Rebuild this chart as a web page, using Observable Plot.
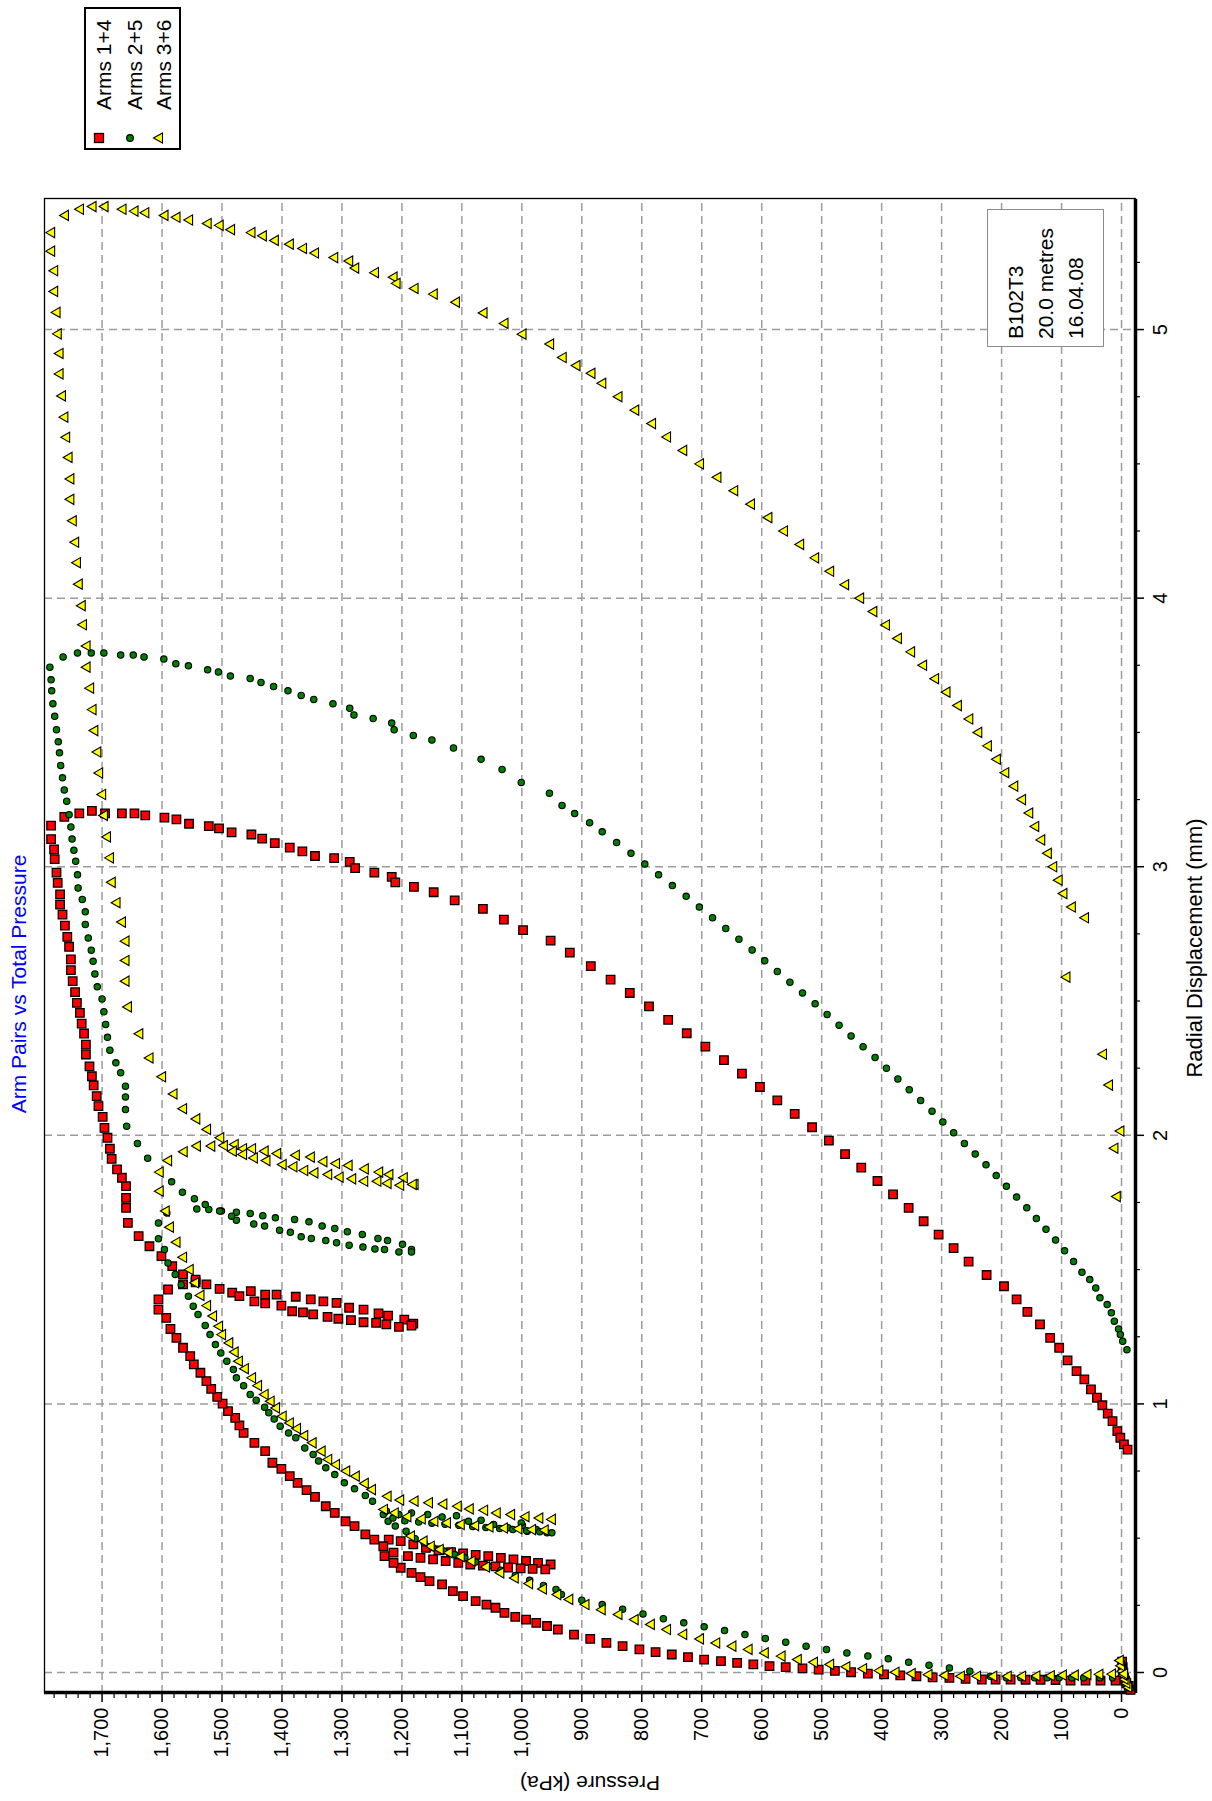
<!DOCTYPE html>
<html><head><meta charset="utf-8">
<script src="https://cdn.jsdelivr.net/npm/d3@7"></script>
<script src="https://cdn.jsdelivr.net/npm/@observablehq/plot@0.6"></script>
<style>
html,body{margin:0;padding:0;overflow:hidden;background:#fff;width:1212px;height:1801px;}
#rot{position:absolute;left:0;top:0;width:1801px;height:1212px;transform-origin:0 0;transform:translateY(1801px) rotate(-90deg);font-family:"Liberation Sans",Arial,sans-serif;background:#fff;overflow:hidden;}
#rot svg{position:absolute;left:0;top:0;}
.abs{position:absolute;white-space:nowrap;}
#title{left:817px;top:19px;transform:translate(-50%,-50%);color:#0000ff;font-size:21px;}
#ylab{left:18px;top:590px;transform:translate(-50%,-50%) rotate(-90deg);font-size:21px;}
#xlab{left:853px;top:1195px;transform:translate(-50%,-50%);font-size:22px;}
#info{left:1454px;top:987px;width:138px;height:117px;box-sizing:border-box;border:1.5px solid #8c8c8c;background:#fff;padding:13px 0 0 7px;font-size:21px;line-height:30px;}
#legend{left:1651px;top:84px;width:143px;height:97px;box-sizing:border-box;border:2px solid #000;background:#fff;}
.lrow{position:absolute;left:0;height:30px;line-height:30px;font-size:21px;white-space:nowrap;}
.lrow svg{position:absolute;left:10px;top:5px;}
.lrow span{position:absolute;left:38px;top:0;}
</style></head>
<body><div id="rot"></div>
<script>
// ---------- tick labels ----------
const pressureTicks = [0,100,200,300,400,500,600,700,800,900,1000,1100,1200,1300,1400,1500,1600,1700];
const dispTicks = [0,1,2,3,4,5];
const legendNames = ["Arms 1+4","Arms 2+5","Arms 3+6"];
const titleText = "Arm Pairs vs Total Pressure";
const xLabel = "Radial Displacement (mm)";
const yLabel = "Pressure (kPa)";
const infoLines = ["B102T3","20.0 metres","16.04.08"];

// ---------- Arms 1+4 : [displacement mm, pressure kPa] ----------
const red_start = [[-0.065,-15],[-0.05,-12],[-0.04,-8],[-0.03,-6],[-0.02,-4],[0.0,-3],[0.02,-2],[0.04,-1],
 [-0.03,10],[-0.03,35],[-0.03,60],[-0.03,85],[-0.028,110],[-0.027,135],[-0.027,160],[-0.026,185],[-0.026,210],[-0.026,233],
 [-0.024,260],[-0.020,287],[-0.018,315],[-0.014,342],[-0.011,369],[-0.007,396],[-0.004,423],[0.001,451],[0.006,478],[0.011,505],
 [0.015,532],[0.020,560],[0.024,587],[0.030,614],[0.036,641],[0.042,668],[0.048,696],[0.057,723],[0.067,750],[0.076,777],
 [0.086,804],[0.098,832],[0.110,859],[0.125,886],[0.141,913],[0.160,940],[0.173,958],[0.185,976],[0.197,993],[0.207,1011],
 [0.222,1029],[0.241,1044],[0.253,1059],[0.266,1077],[0.284,1098],[0.303,1115],[0.328,1133],[0.340,1154],[0.355,1169],
 [0.371,1184],[0.390,1202],[0.408,1214],[0.433,1229]];
const red_loop1 = [[0.495,1222],[0.489,1202],[0.477,1181],[0.464,1160],[0.455,1139],[0.448,1118],[0.443,1098],[0.438,1077],
 [0.433,1056],[0.427,1035],[0.421,1014],[0.415,993],[0.408,973],[0.402,952],
 [0.470,1231],[0.446,1214],[0.433,1190],[0.427,1169],[0.421,1148],[0.415,1127],[0.408,1106],[0.402,1086],[0.398,1065],
 [0.395,1044],[0.391,1023],[0.388,1002],[0.386,982],[0.384,961]];
const red_mid = [[0.495,1246],[0.514,1261],[0.545,1279],[0.563,1294],[0.594,1312],[0.619,1327],[0.654,1345],[0.679,1359],
 [0.706,1374],[0.731,1387],[0.758,1401],[0.781,1416],[0.824,1428],[0.855,1446],[0.892,1464],[0.920,1471],[0.948,1478],
 [0.973,1490],[1.001,1499],[1.026,1508],[1.056,1518],[1.085,1526],[1.116,1536],[1.147,1547],[1.178,1553],[1.209,1565],
 [1.246,1576],[1.279,1586],[1.320,1593]];
const red_loop2 = [[1.389,1606],[1.351,1606],[1.426,1590],
 [1.445,1565],[1.453,1544],[1.445,1526],[1.428,1504],[1.414,1483],[1.420,1452],[1.407,1428],[1.407,1409],[1.399,1377],
 [1.389,1352],[1.382,1331],[1.376,1309],[1.358,1288],[1.351,1264],[1.337,1239],[1.329,1223],[1.314,1196],[1.299,1181],
 [1.401,1471],[1.382,1446],[1.374,1428],[1.366,1401],[1.345,1383],[1.341,1365],[1.333,1348],[1.324,1324],[1.317,1306],
 [1.312,1285],[1.304,1264],[1.302,1243],[1.296,1226],[1.287,1205],[1.292,1184]];
const red_upper = [[1.463,1544],[1.482,1565],[1.513,1583],[1.550,1601],[1.587,1621],[1.625,1639],[1.674,1657],[1.730,1660],
 [1.767,1660],[1.811,1660],[1.842,1667],[1.873,1675],[1.912,1684],[1.950,1687],[1.991,1691],[2.028,1696],[2.069,1699],
 [2.109,1706],[2.146,1709],[2.186,1714],[2.220,1717],[2.257,1721],[2.301,1727],[2.338,1727],[2.379,1730],[2.416,1734],
 [2.456,1737],[2.493,1742],[2.533,1745],[2.574,1749],[2.615,1752],[2.655,1752],[2.702,1755],[2.739,1758],[2.781,1762],
 [2.822,1766],[2.859,1770],[2.897,1770],[2.940,1774],[2.978,1776],[3.028,1779],[3.065,1780],[3.103,1785],[3.153,1785]];
const red_unload = [[3.186,1763],[3.199,1738],[3.208,1717],[3.199,1695],[3.199,1667],[3.199,1646],[3.191,1628],[3.183,1596],
 [3.176,1576],[3.160,1555],[3.151,1522],[3.143,1505],[3.128,1484],[3.120,1451],[3.105,1433],[3.088,1412],[3.071,1387],
 [3.057,1366],[3.040,1345],[3.032,1313],[3.018,1287],[2.995,1278],[2.978,1246],[2.962,1217],[2.942,1211],[2.925,1180],
 [2.905,1147],[2.875,1112],[2.843,1065],[2.803,1030],[2.764,998],[2.725,952],
 [2.68,920],[2.63,885],[2.58,852],[2.53,820],[2.48,788],[2.43,756],[2.38,725],[2.33,694],[2.28,663],[2.23,633],[2.18,603],
 [2.13,574],[2.08,545],[2.03,516],[1.98,488],[1.93,461],[1.88,434],[1.83,407],[1.78,381],[1.73,355],[1.68,330],[1.63,305],
 [1.58,280],[1.53,255],[1.48,225],[1.438,196],[1.389,175],[1.343,157],[1.296,136],[1.246,119],[1.209,104],[1.162,90],
 [1.122,75],[1.091,62],[1.054,51],[1.023,41],[0.995,32],[0.964,23],[0.936,15],[0.899,7],[0.874,2],[0.849,-4],[0.830,-10]];

// ---------- Arms 2+5 ----------
const green_start = [[-0.06,-14],[-0.045,-10],[-0.03,-7],[-0.015,-5],[0.01,-3],[0.03,-1],
 [-0.02,-5],[-0.02,15],[-0.02,36],[-0.02,63],[-0.02,83],[-0.02,104],[-0.02,124],[-0.02,145],[-0.02,168],[-0.02,192],[-0.014,219],
 [0.005,253],[0.017,287],[0.027,321],[0.038,355],[0.051,389],[0.061,423],[0.073,458],[0.086,492],[0.098,526],[0.113,560],
 [0.127,594],[0.141,628],[0.156,662],[0.170,696],[0.185,730],[0.200,764],[0.218,798],[0.235,832],[0.253,866],[0.269,900],
 [0.290,934],[0.309,943],[0.324,964],[0.343,987],[0.361,1011],[0.381,1035],[0.396,1056],[0.411,1077],[0.427,1095],
 [0.439,1112],[0.452,1130],[0.464,1148],[0.483,1163],[0.498,1178],[0.526,1193],[0.545,1211],[0.563,1223],[0.588,1231]];
const green_loop1 = [[0.601,1226],[0.588,1205],[0.594,1184],[0.588,1157],[0.579,1133],[0.584,1109],[0.563,1089],[0.567,1068],
 [0.551,1047],[0.539,1023],[0.547,999],[0.532,976],[0.520,958],[0.557,1001],[0.526,991],
 [0.575,1215],[0.565,1195],[0.560,1172],[0.556,1150],[0.552,1128],[0.548,1105],[0.544,1082],[0.540,1060],[0.536,1037],
 [0.532,1015],[0.528,992],[0.524,970],[0.520,950]];
const green_mid = [[0.638,1249],[0.659,1261],[0.684,1279],[0.706,1296],[0.737,1312],[0.762,1327],[0.787,1339],[0.812,1348],
 [0.836,1362],[0.874,1377],[0.892,1389],[0.917,1403],[0.944,1413],[0.967,1422],[0.988,1429],[1.014,1443],[1.035,1453],
 [1.068,1464],[1.097,1476],[1.128,1481],[1.159,1492],[1.190,1502],[1.221,1511],[1.258,1520],[1.292,1528],[1.333,1540],
 [1.364,1548],[1.401,1556],[1.444,1568],[1.482,1578],[1.525,1590],[1.575,1596],[1.615,1606],[1.674,1606],[1.711,1592]];
const green_loop2 = [[1.726,1542],[1.724,1522],[1.718,1501],[1.714,1476],[1.709,1453],[1.701,1432],[1.693,1411],[1.687,1379],
 [1.678,1355],[1.662,1333],[1.653,1312],[1.641,1291],[1.631,1266],[1.616,1240],[1.608,1224],[1.594,1199],[1.575,1184],
 [1.684,1476],[1.670,1447],[1.662,1429],[1.647,1404],[1.639,1386],[1.622,1368],[1.616,1351],[1.608,1327],[1.600,1309],
 [1.591,1288],[1.584,1265],[1.577,1245],[1.575,1229],[1.566,1205],[1.566,1184],
 [1.827,1584],[1.788,1566],[1.764,1546],[1.742,1528],[1.718,1504],[1.699,1484]];
const green_upper = [[1.915,1624],[1.970,1641],[2.034,1659],[2.096,1661],[2.143,1661],[2.183,1661],[2.233,1669],[2.270,1677],
 [2.317,1687],[2.365,1691],[2.413,1694],[2.460,1697],[2.508,1700],[2.553,1708],[2.601,1712],[2.648,1715],[2.689,1718],
 [2.735,1723],[2.785,1728],[2.832,1728],[2.878,1733],[2.921,1740],[2.970,1741],[3.020,1744],[3.061,1747],[3.103,1750],
 [3.148,1752],[3.194,1755],[3.244,1759],[3.286,1763],[3.331,1766],[3.377,1769],[3.424,1771],[3.465,1773],[3.510,1776],
 [3.560,1779],[3.607,1782],[3.655,1784],[3.696,1785]];
const green_unload = [[3.743,1787],[3.781,1765],[3.796,1741],[3.796,1718],[3.796,1697],[3.788,1669],[3.788,1648],[3.781,1630],
 [3.773,1597],[3.756,1577],[3.748,1556],[3.733,1524],[3.725,1506],[3.710,1486],[3.701,1453],[3.686,1435],[3.671,1414],
 [3.655,1390],[3.638,1368],[3.623,1347],[3.607,1315],[3.590,1287],[3.565,1280],[3.552,1248],[3.535,1217],[3.510,1213],
 [3.489,1181],[3.472,1150],[3.442,1114],[3.400,1068],[3.362,1033],[3.314,1001],[3.274,954],[3.228,933],[3.198,912],[3.164,887],
 [3.13,866],[3.09,842],[3.05,818],[3.01,795],[2.97,772],[2.93,749],[2.89,726],[2.85,704],[2.81,682],[2.77,660],[2.73,638],
 [2.69,616],[2.65,595],[2.61,574],[2.57,553],[2.53,532],[2.49,511],[2.45,491],[2.41,471],[2.37,451],[2.33,431],[2.29,411],
 [2.25,392],[2.21,373],[2.17,354],[2.13,335],[2.09,316],[2.05,298],[2.01,280],[1.97,262],[1.93,244],[1.89,226],[1.85,209],
 [1.81,192],[1.77,175],[1.73,158],[1.69,142],[1.65,126],[1.61,110],[1.57,95],[1.53,80],[1.49,66],[1.463,53],[1.432,43],
 [1.395,36],[1.370,24],[1.339,17],[1.308,12],[1.279,5],[1.258,2],[1.233,-2],[1.202,-9]];

// ---------- Arms 3+6 ----------
const yellow_start = [[-0.055,-12],[-0.04,-9],[-0.025,-6],[-0.01,-4],[0.005,-2],[0.025,0],[0.045,2],
 [-0.005,-5],[-0.006,15],[-0.007,36],[-0.008,56],[-0.01,77],[-0.01,97],[-0.012,117],[-0.013,141],[-0.014,165],[-0.014,189],
 [-0.014,213],[-0.014,240],[-0.014,267],[-0.011,294],[-0.008,321],[-0.004,349],[0.001,376],[0.007,403],[0.014,430],[0.021,458],
 [0.030,485],[0.038,512],[0.048,539],[0.061,566],[0.073,594],[0.086,621],[0.098,648],[0.110,675],[0.125,702],[0.142,730],
 [0.160,757],[0.179,784],[0.197,811],[0.216,838],[0.234,866],[0.253,893],[0.272,920],[0.290,940],[0.311,964],[0.331,987],
 [0.352,1011],[0.371,1035],[0.393,1059],[0.415,1083],[0.431,1101],[0.446,1121],[0.458,1136],[0.470,1151],[0.489,1163],[0.508,1184]];
const yellow_loop1 = [[0.656,1223],[0.642,1202],[0.638,1178],[0.632,1154],[0.627,1130],[0.619,1106],[0.609,1086],[0.604,1062],
 [0.594,1041],[0.588,1017],[0.580,993],[0.575,970],[0.570,949],
 [0.607,1229],[0.594,1211],[0.580,1190],[0.572,1166],[0.563,1145],[0.557,1124],[0.551,1101],[0.547,1077],[0.542,1053],
 [0.538,1029],[0.535,1005],[0.532,982],[0.530,961]];
const yellow_mid = [[0.681,1249],[0.704,1261],[0.731,1276],[0.750,1292],[0.774,1309],[0.793,1322],[0.824,1333],[0.855,1348],
 [0.882,1362],[0.908,1374],[0.929,1386],[0.954,1398],[0.985,1409],[1.010,1418],[1.035,1428],[1.068,1439],[1.097,1449],
 [1.131,1461],[1.159,1471],[1.193,1478],[1.227,1487],[1.258,1499],[1.289,1504],[1.327,1514],[1.366,1524],[1.404,1535],
 [1.451,1544],[1.500,1553],[1.546,1564],[1.602,1575],[1.658,1586],[1.718,1593],[1.792,1603],[1.863,1603]];
const yellow_loop2 = [[1.906,1589],[1.939,1563],[1.960,1541],[1.960,1517],[1.962,1496],[1.966,1478],[1.950,1464],[1.950,1449],
 [1.941,1428],[1.932,1407],[1.926,1376],[1.919,1351],[1.902,1330],[1.895,1309],[1.888,1288],[1.875,1261],[1.863,1237],
 [1.854,1220],[1.842,1196],[1.817,1178],
 [1.941,1481],[1.929,1464],[1.916,1446],[1.906,1425],[1.891,1398],[1.883,1380],[1.869,1362],[1.860,1345],[1.854,1322],
 [1.844,1303],[1.838,1282],[1.829,1262],[1.829,1240],[1.821,1223],[1.814,1202],[1.817,1181]];
const yellow_upper = [[1.991,1502],[2.022,1524],[2.061,1542],[2.099,1564],[2.154,1580],[2.218,1599],[2.288,1620],[2.378,1637],
 [2.478,1656],[2.574,1660],[2.651,1660],[2.723,1660],[2.794,1666],[2.866,1675],[2.942,1683],[3.033,1686],[3.111,1691],
 [3.191,1696],[3.269,1699],[3.349,1704],[3.427,1707],[3.507,1712],[3.585,1715],[3.665,1719],[3.743,1725],[3.822,1725],
 [3.901,1731],[3.972,1733],[4.052,1738],[4.132,1741],[4.208,1744],[4.288,1748],[4.368,1752],[4.444,1752],[4.524,1755],
 [4.599,1759],[4.674,1762],[4.753,1766],[4.835,1770],[4.911,1770],[4.984,1773],[5.064,1775],[5.142,1779],[5.219,1779],
 [5.292,1784],[5.361,1784]];
const yellow_unload = [[5.425,1761],[5.448,1736],[5.458,1715],[5.458,1695],[5.448,1665],[5.441,1645],[5.435,1627],[5.425,1595],
 [5.418,1575],[5.408,1554],[5.395,1523],[5.388,1503],[5.372,1484],[5.361,1450],[5.349,1431],[5.332,1411],[5.318,1386],
 [5.302,1364],[5.285,1344],[5.268,1312],[5.255,1287],[5.229,1277],[5.212,1244],[5.195,1213],[5.172,1208],[5.153,1178],
 [5.132,1146],[5.102,1109],[5.062,1063],[5.023,1028],[4.983,998],[4.946,952],[4.896,931],[4.866,908],[4.837,883],
 [4.80,865],[4.75,838],[4.70,810],[4.65,782],[4.60,757],[4.55,730],[4.50,702],[4.45,673],[4.40,645],[4.35,617],[4.30,588],
 [4.25,562],[4.20,535],[4.15,510],[4.10,485],[4.05,460],[4.00,435],[3.95,413],[3.90,392],[3.85,372],[3.80,350],[3.75,330],
 [3.70,310],[3.65,291],[3.60,272],[3.55,253],[3.50,238],[3.45,222],[3.40,207],[3.35,193],[3.30,178],[3.25,165],[3.20,153],
 [3.15,143],[3.10,133],[3.05,122],[3.00,113],[2.95,104],[2.90,96],[2.85,82],[2.81,60]];
const yellow_tail = [[2.589,91],[2.302,30],[2.187,20],[2.016,1],[1.952,11],[1.772,7]];

// ---------- build ----------
const rows = a => a.map(([d, p]) => ({d, p}));
const arms14 = rows([...red_start, ...red_loop1, ...red_mid, ...red_loop2, ...red_upper, ...red_unload]);
const arms25 = rows([...green_start, ...green_loop1, ...green_mid, ...green_loop2, ...green_upper, ...green_unload]);
const arms36 = rows([...yellow_start, ...yellow_loop1, ...yellow_mid, ...yellow_loop2, ...yellow_upper, ...yellow_unload, ...yellow_tail]);

const xDomain = [-0.0745, 5.488];
const yDomain = [-23.3, 1796];
const pressureMinor = d3.range(20, 1796, 20).filter(v => v % 100 !== 0);
const dispMinor = d3.range(0.25, 5.3, 0.25).filter(v => Math.abs(v - Math.round(v)) > 1e-9);

const gridStyle = {stroke: "#9c9c9c", strokeOpacity: 1, strokeWidth: 1.5, strokeDasharray: "8,5"};
const styles = [
  {symbol: "square", r: 4.8, fill: "#ff0000"},
  {symbol: "circle", r: 3.2, fill: "#008000"},
  {symbol: "triangle", r: 3.8, fill: "#ffff00"}
];

const chart = Plot.plot({
  width: 1801, height: 1212,
  marginLeft: 108, marginRight: 199, marginTop: 44, marginBottom: 77,
  x: {domain: xDomain},
  y: {domain: yDomain},
  style: {fontFamily: "'Liberation Sans', Arial, sans-serif", fontSize: "20px", background: "transparent", color: "black"},
  marks: [
    Plot.gridY(pressureTicks, gridStyle),
    Plot.gridX(dispTicks, gridStyle),
    Plot.axisY(pressureMinor, {anchor: "left", tickSize: 5, tickFormat: () => "", label: null, strokeWidth: 1.2}),
    Plot.axisY(pressureTicks, {anchor: "left", tickSize: 9, tickPadding: 6, tickFormat: d3.format(","), label: null, fontSize: 20, strokeWidth: 1.5}),
    Plot.axisX(dispMinor, {anchor: "bottom", tickSize: 5, tickFormat: () => "", label: null, strokeWidth: 1.2}),
    Plot.axisX(dispTicks, {anchor: "bottom", tickSize: 9, tickPadding: 8, tickFormat: d => String(d), label: null, fontSize: 20, strokeWidth: 1.5}),
    Plot.frame({stroke: "black", strokeWidth: 1.3}),
    Plot.ruleX([xDomain[0]], {stroke: "black", strokeWidth: 3.5}),
    Plot.ruleY([yDomain[0]], {stroke: "black", strokeWidth: 3.5}),
    Plot.dot(arms14, {x: "d", y: "p", ...styles[0], stroke: "black", strokeWidth: 1.3}),
    Plot.dot(arms25, {x: "d", y: "p", ...styles[1], stroke: "black", strokeWidth: 1.1}),
    Plot.dot(arms36, {x: "d", y: "p", ...styles[2], stroke: "black", strokeWidth: 1.1})
  ]
});

const rot = document.getElementById("rot");
rot.appendChild(chart);

function addDiv(id, html) {
  const el = document.createElement("div");
  el.id = id; el.className = "abs"; el.innerHTML = html;
  rot.appendChild(el);
  return el;
}
addDiv("title", titleText);
addDiv("ylab", yLabel);
addDiv("xlab", xLabel);
addDiv("info", infoLines.join("<br>"));

const swatch = [
  '<svg width="20" height="20"><rect x="5.5" y="5.5" width="9" height="9" fill="#ff0000" stroke="black" stroke-width="1.3"/></svg>',
  '<svg width="20" height="20"><circle cx="10" cy="10" r="3.4" fill="#008000" stroke="black" stroke-width="1.1"/></svg>',
  '<svg width="20" height="20"><polygon points="10,4.5 15,13.5 5,13.5" fill="#ffff00" stroke="black" stroke-width="1.1"/></svg>'
];
const legend = addDiv("legend", "");
const rowTops = [3, 34, 63];
legendNames.forEach((name, i) => {
  const r = document.createElement("div");
  r.className = "lrow";
  r.style.top = rowTops[i] + "px";
  r.innerHTML = swatch[i] + "<span>" + name + "</span>";
  legend.appendChild(r);
});
</script>
</body></html>
